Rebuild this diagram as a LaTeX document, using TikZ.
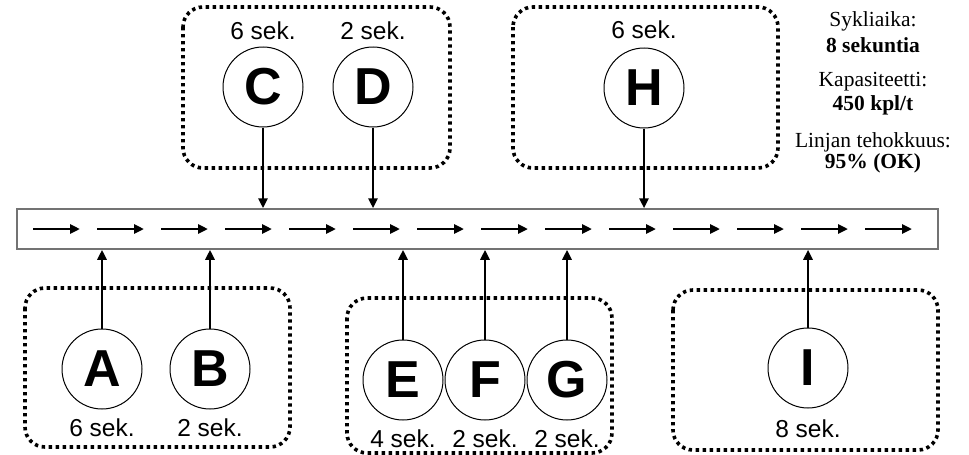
\documentclass[tikz,border=0pt]{standalone}
\usepackage{fontspec}
\setmainfont{Liberation Sans}
\newfontfamily\timesfont{Liberation Serif}
\usetikzlibrary{arrows.meta}
\begin{document}
\begin{tikzpicture}[x=1pt,y=-1pt,
  station/.style={circle,draw,line width=1pt,minimum size=80pt,inner sep=0pt,
    font=\fontsize{52}{52}\selectfont\bfseries},
  timelabel/.style={anchor=base,inner sep=0pt,font=\fontsize{24.5}{24.5}\selectfont},
  groupbox/.style={draw,line width=3.6pt,dash pattern=on 3.4pt off 3.6pt,rounded corners=20pt},
  feed/.style={line width=2.8pt,-{Triangle[length=10pt,width=9pt]}},
  flow/.style={line width=2.8pt,-{Triangle[length=10pt,width=9pt]}},
  info/.style={anchor=base,inner sep=0pt,font=\timesfont\fontsize{21.5}{21.5}\selectfont},
  infobold/.style={info,font=\timesfont\fontsize{21.5}{21.5}\selectfont\bfseries}]
\useasboundingbox (0,0) rectangle (969,455);

% assembly line
\node[draw=black!55,line width=1.5pt,minimum width=921pt,minimum height=40pt,inner sep=0pt]
  (line) at (477.5,229) {};
\foreach \i in {0,...,13}{
  \coordinate (s\i) at ({33+64*\i},229);
  \coordinate (e\i) at ({80+64*\i},229);
  \draw[flow] (s\i) -- (e\i);
}

% group frames
\draw[groupbox] (183,7) rectangle (450,168);
\draw[groupbox] (513,7) rectangle (778,168);
\draw[groupbox] (25,288) rectangle (290,447);
\draw[groupbox] (347,298) rectangle (612,453);
\draw[groupbox] (673,290) rectangle (938,450);

% stations above the line
\node[station] (C) at (263,87) {C};
\node[station] (D) at (373,87) {D};
\node[station] (H) at (644,88) {H};
\node[timelabel] (tC) at (263,39) {6 sek.};
\node[timelabel] (tD) at (373,39) {2 sek.};
\node[timelabel] (tH) at (644,38) {6 sek.};

% stations below the line
\node[station] (A) at (102,369) {A};
\node[station] (B) at (210,369) {B};
\node[station] (E) at (403,380) {E};
\node[station] (F) at (485,380) {F};
\node[station] (G) at (567,380) {G};
\node[station] (I) at (808,368) {I};
\node[timelabel] (tA) at (102,436) {6 sek.};
\node[timelabel] (tB) at (210,436) {2 sek.};
\node[timelabel] (tE) at (403,447) {4 sek.};
\node[timelabel] (tF) at (485,447) {2 sek.};
\node[timelabel] (tG) at (567,447) {2 sek.};
\node[timelabel] (tI) at (808,437) {8 sek.};

% feeds into the line
\foreach \s in {C,D,H}{
  \draw[feed] (\s.south) -- (\s.south |- line.north);
}
\foreach \s in {A,B,E,F,G,I}{
  \draw[feed] (\s.north) -- (\s.north |- line.south);
}

% key figures
\node[info] (k1) at (873,27) {Sykliaika:};
\node[infobold] (v1) at (873,52) {8 sekuntia};
\node[info] (k2) at (873,86) {Kapasiteetti:};
\node[infobold] (v2) at (873,110) {450 kpl/t};
\node[info] (k3) at (873,147) {Linjan tehokkuus:};
\node[infobold] (v3) at (873,168) {95\% (OK)};
\end{tikzpicture}
\end{document}
